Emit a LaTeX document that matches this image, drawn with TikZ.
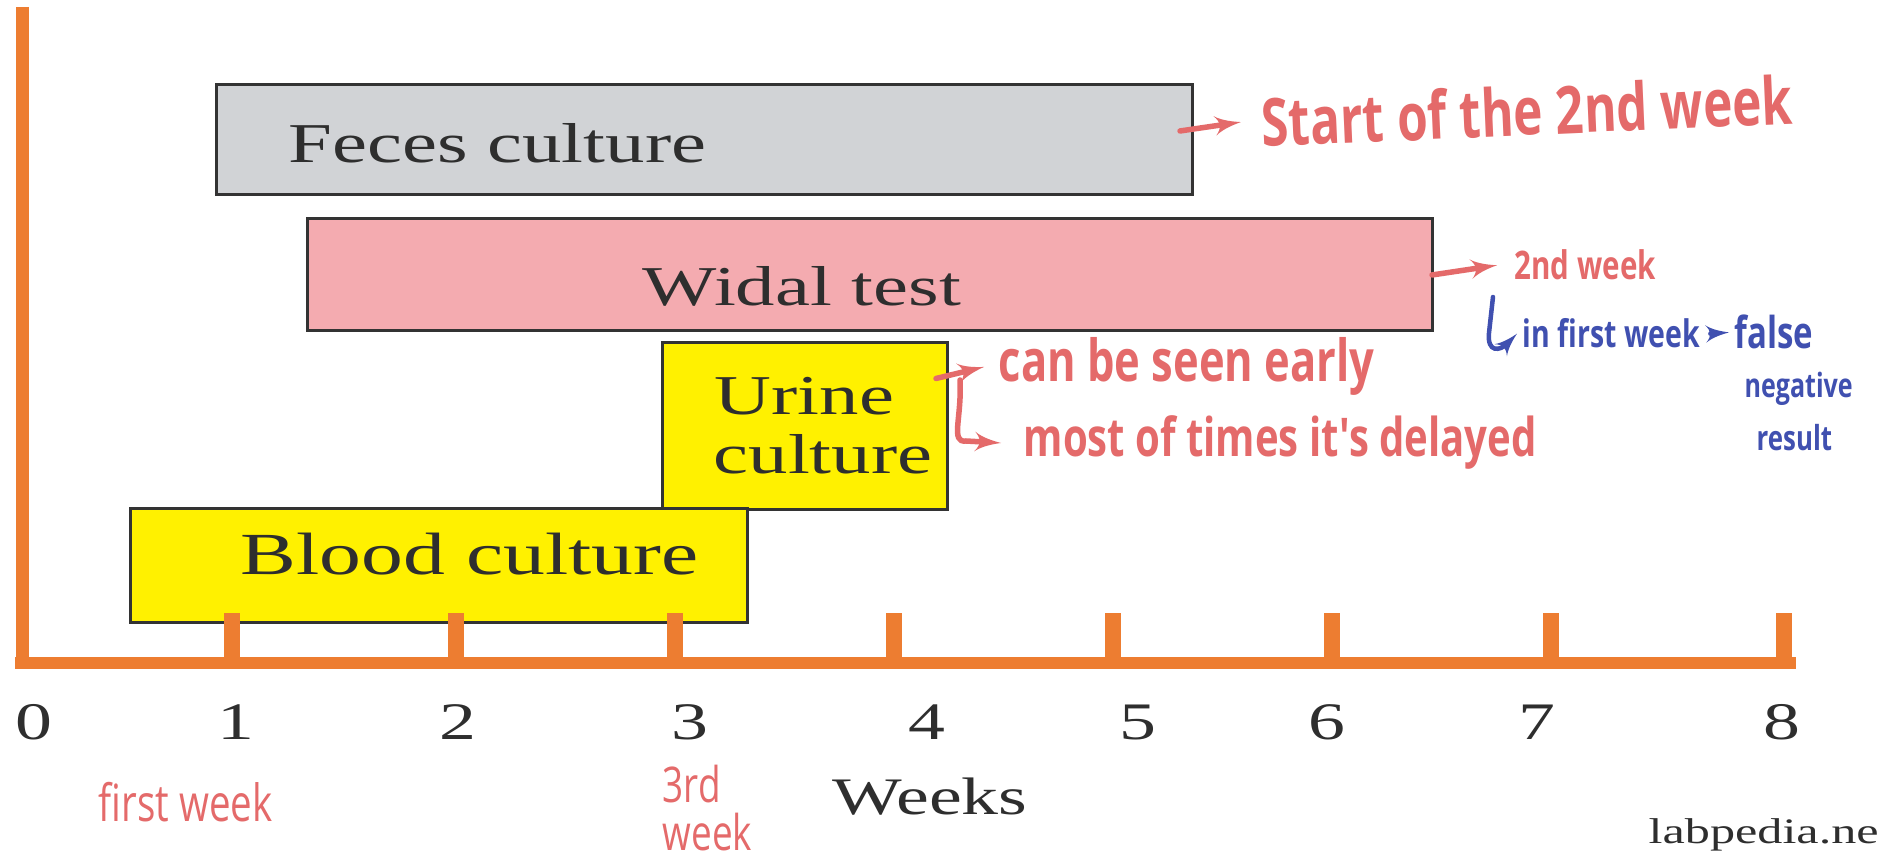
\documentclass[tikz,border=0pt]{standalone}
\usepackage{fontspec}
\setmainfont{Liberation Serif}[FakeStretch=1.4]
\newfontfamily\handfont{Open Sans}[FakeStretch=0.75]
\usetikzlibrary{arrows}

\definecolor{axisorange}{RGB}{237,125,49}
\definecolor{fecesgray}{RGB}{209,211,214}
\definecolor{widalpink}{RGB}{244,171,176}
\definecolor{cultureyellow}{RGB}{255,241,0}
\definecolor{boxline}{RGB}{51,51,51}
\definecolor{inkgray}{RGB}{46,46,46}
\definecolor{penred}{RGB}{228,106,106}
\definecolor{penblue}{RGB}{64,80,176}

\begin{document}
\begin{tikzpicture}[axisline/.style={axisorange, line width=0.13cm},
            tickmark/.style={axisorange, line width=0.16cm},
            box/.style={draw=boxline, line width=0.03cm, inner sep=0pt, outer sep=0pt},
            boxtext/.style={inner sep=0pt, text=inkgray, font=\fontsize{16}{19}\selectfont},
            weeknum/.style={inner sep=0pt, anchor=base, text=inkgray, font=\fontsize{15}{18}\selectfont},
            hand/.style={inner sep=0pt, anchor=base west},
            redpen/.style={penred, line width=0.055cm, line cap=round},
            bluepen/.style={penblue, line width=0.045cm, line cap=round},
            >=latex']
    \fill[white] (0,0) rectangle (18.81,8.63);
    \useasboundingbox (0,0) rectangle (18.81,8.63);
    % bars
    \node[box, fill=fecesgray, minimum width=9.76cm, minimum height=1.10cm] (feces) at (7.04,7.23) {};
    \node[box, fill=widalpink, minimum width=11.25cm, minimum height=1.12cm] (widal) at (8.695,5.88) {};
    \node[box, fill=cultureyellow, minimum width=2.85cm, minimum height=1.67cm] (urine) at (8.045,4.365) {};
    \node[box, fill=cultureyellow, minimum width=6.17cm, minimum height=1.14cm] (blood) at (4.385,2.97) {};
    \node[boxtext, anchor=base west] (fecestext) at (2.88,7.00) {Feces culture};
    \node[boxtext, anchor=base] (widaltext) at (8.02,5.57) {Widal test};
    \node[boxtext, anchor=base west] (urinetext) at (7.14,4.48) {Urine};
    \node[boxtext, anchor=base west] (urinetext2) at (7.13,3.89) {culture};
    \node[boxtext, anchor=base west, font=\fontsize{17}{20}\selectfont] (bloodtext) at (2.40,2.88) {Blood culture};
    % axes
    \draw[axisline] (0.23,8.56) -- (0.23,1.94);
    \draw[axisorange, line width=0.115cm] (0.155,2.0) -- (17.96,2.0);
    \foreach \x in {2.32,4.56,6.75,8.94,11.13,13.32,15.51,17.84}
        \draw[tickmark] (\x,2.0) -- (\x,2.50);
    \foreach \x/\n in {0.34/0,2.36/1,4.58/2,6.90/3,9.27/4,11.38/5,13.27/6,15.37/7,17.82/8}
        \node[weeknum] (w\n) at (\x,1.23) {\n};
    \node[boxtext, anchor=base, font=\fontsize{15}{18}\selectfont] (weeks) at (9.30,0.48) {Weeks};
    \node[inner sep=0pt, anchor=base west, text=inkgray, font=\fontsize{10.2}{12}\selectfont] (site) at (16.48,0.19) {labpedia.ne};
    % red notes
    \node[hand, text=penred, rotate=2.5, font=\handfont\bfseries\fontsize{18.8}{22}\selectfont] (startnote) at (12.62,7.16) {Start of the 2nd week};
    \node[hand, text=penred, font=\handfont\bfseries\fontsize{11.2}{14}\selectfont] (secondnote) at (15.14,5.83) {2nd week};
    \node[hand, text=penred, font=\handfont\bfseries\fontsize{16.5}{19}\selectfont] (earlynote) at (9.98,4.81) {can be seen early};
    \node[hand, text=penred, font=\handfont\bfseries\fontsize{15.2}{18}\selectfont] (delaynote) at (10.23,4.06) {most of times it's delayed};
    \node[hand, text=penred, font=\handfont\fontsize{14.6}{17}\selectfont] (firstnote) at (0.98,0.41) {first week};
    \node[hand, text=penred, font=\handfont\fontsize{14}{16}\selectfont] (thirdnote) at (6.62,0.60) {3rd};
    \node[hand, text=penred, font=\handfont\fontsize{14}{16}\selectfont] (thirdnote2) at (6.62,0.12) {week};
    \draw[redpen, ->] ([shift={(-0.12,0.09)}]feces.east) -- ([xshift=-0.2cm]startnote.west);
    \draw[redpen, ->] (widal.east) -- ([xshift=-0.17cm]secondnote.west);
    \coordinate (bracetop) at (9.60,4.83);
    \draw[redpen, ->] ([shift={(-0.11,0.48)}]urine.east) -- ([xshift=-0.14cm]earlynote.west);
    \draw[redpen, ->] (bracetop) .. controls (9.62,4.45) and (9.50,4.20) .. (9.66,4.22)
        -- ([xshift=-0.22cm]delaynote.west);
    % blue notes
    \node[hand, text=penblue, font=\handfont\bfseries\fontsize{10.8}{14}\selectfont] (infirst) at (15.22,5.15) {in first week};
    \node[hand, text=penblue, font=\handfont\bfseries\fontsize{12.5}{14}\selectfont] (falsenote) at (17.34,5.14) {false};
    \node[hand, text=penblue, font=\handfont\bfseries\fontsize{9.5}{12}\selectfont] (negnote) at (17.44,4.65) {negative};
    \node[hand, text=penblue, font=\handfont\bfseries\fontsize{9.8}{12}\selectfont] (resultnote) at (17.56,4.12) {result};
    \coordinate (hooktop) at (14.93,5.66);
    \draw[bluepen, ->] (hooktop) -- (14.89,5.30) .. controls (14.87,5.10) and (15.00,5.12) .. ([xshift=-0.05cm]infirst.west);
    \draw[bluepen, ->] ([xshift=0.1cm]infirst.east) -- ([xshift=-0.05cm]falsenote.west);
\end{tikzpicture}
\end{document}
